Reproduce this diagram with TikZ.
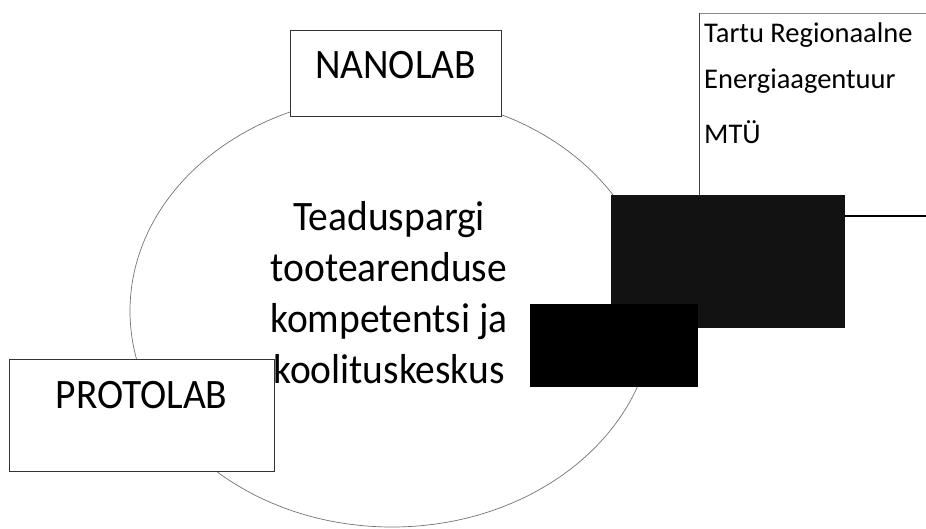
\documentclass[tikz,border=0pt]{standalone}
\usepackage{fontspec}
\setmainfont{Carlito}
\newcommand{\vstretch}[1]{\scalebox{1}[1.06]{#1}}
\begin{document}
\begin{tikzpicture}[x=1pt,y=-1pt,
  boxline/.style={draw=black!80,line width=0.9pt,fill=white},
  darkbox/.style={draw=none,inner sep=0pt,anchor=north west},
  bigtxt/.style={font=\fontsize{39.5}{44}\selectfont,inner sep=0pt,anchor=base},
  midtxt/.style={font=\fontsize{39.5}{44}\selectfont,inner sep=0pt,anchor=base},
  smalltxt/.style={font=\fontsize{28.5}{30}\selectfont,inner sep=0pt,anchor=base west},
  ring/.style={draw=black!55,line width=0.7pt}]
\useasboundingbox (0,0) rectangle (926,528);
% circle
\draw[ring] (392,311) ellipse [x radius=262, y radius=216];
% Tartu box (runs off the right edge)
\fill[white] (699,13) rectangle (940,216);
\coordinate (tbl) at (699,216);
\coordinate (ttl) at (699,13);
\coordinate (ttr) at (940,13);
\coordinate (tbr) at (940,216);
\draw[black!45,line width=0.8pt] (ttl) -- (ttr);
\draw[black!75,line width=0.9pt] (tbl) -- (ttl);
\draw[black,line width=1.1pt] (tbl) -- (tbr);
\node[smalltxt] (t1) at (704,42) {Tartu Regionaalne};
\node[smalltxt] (t2) at (704,88) {Energiaagentuur};
\node[smalltxt] (t3) at (704,143) {MTÜ};
% dark boxes
\node[darkbox,fill=black!93,minimum width=234pt,minimum height=133pt] (d1) at (611,195) {};
\node[darkbox,fill=black,minimum width=168pt,minimum height=83pt] (d2) at (530,304) {};
% NANOLAB
\node[boxline,inner sep=0pt,anchor=north west,minimum width=211pt,minimum height=86pt] (nano) at (290,30) {};
\node[bigtxt] (nanot) at (395.5,78) {\vstretch{NANOLAB}};
% PROTOLAB
\node[boxline,inner sep=0pt,anchor=north west,minimum width=265pt,minimum height=112pt] (proto) at (9,359) {};
\node[bigtxt] (protot) at (141.5,408) {\vstretch{PROTOLAB}};
% centre text
\node[midtxt] (c1) at (389,230) {\vstretch{Teaduspargi}};
\node[midtxt] (c2) at (389,281) {\vstretch{tootearenduse}};
\node[midtxt] (c3) at (389,332) {\vstretch{kompetentsi ja}};
\node[midtxt] (c4) at (389,383) {\vstretch{koolituskeskus}};
\end{tikzpicture}
\end{document}
